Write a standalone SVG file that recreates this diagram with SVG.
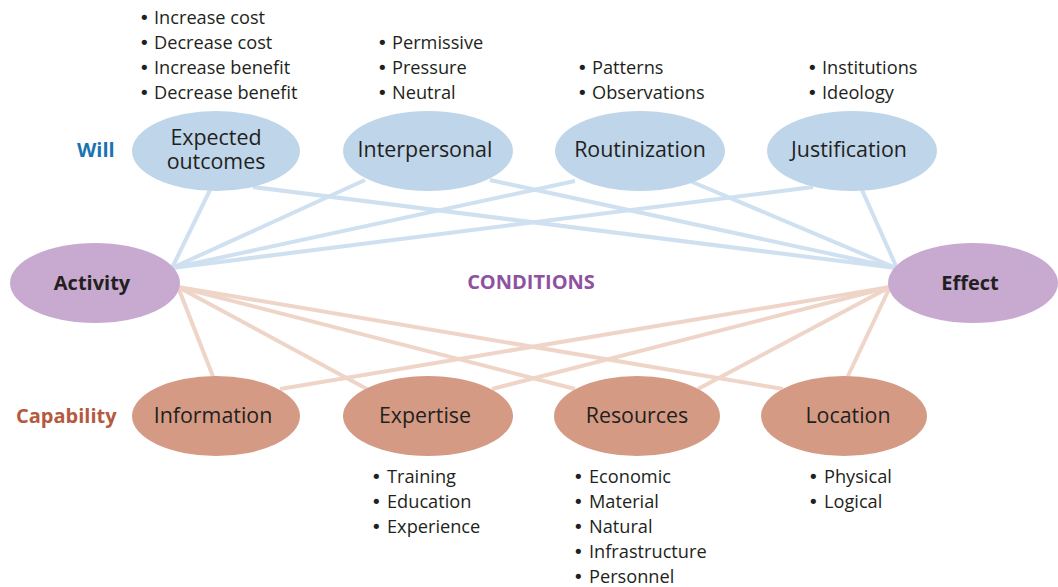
<svg xmlns="http://www.w3.org/2000/svg" width="1058" height="587" viewBox="0 0 1058 587">
<style>
text{font-family:"Open Sans","Liberation Sans",sans-serif;fill:#231f20}
.lbl{font-size:21.4px;text-anchor:middle}
.bold{font-weight:bold;font-size:20px}
.li{font-size:18.2px}
.bu{font-family:"DejaVu Sans",sans-serif;font-size:18px}
.b{stroke:#cfe0f0;stroke-width:4;fill:none}
.o{stroke:#efd5c8;stroke-width:4;fill:none}
.will{fill:#bed5ea}
.cond{fill:#c8aad0}
.cap{fill:#d49a84}
</style>
<rect width="1058" height="587" fill="#fff"/>
<g id="connectors">
<line class="b" x1="210" y1="190" x2="172" y2="268"/>
<line class="b" x1="365" y1="180" x2="172" y2="268"/>
<line class="b" x1="575" y1="181" x2="172" y2="268"/>
<line class="b" x1="813" y1="187" x2="172" y2="268"/>
<line class="b" x1="253" y1="187" x2="896" y2="268"/>
<line class="b" x1="490" y1="180" x2="896" y2="268"/>
<line class="b" x1="690" y1="181" x2="896" y2="268"/>
<line class="b" x1="862" y1="190" x2="896" y2="266"/>
<line class="o" x1="178" y1="287" x2="214" y2="379"/>
<line class="o" x1="178" y1="287" x2="367" y2="389"/>
<line class="o" x1="178" y1="287" x2="575" y2="389"/>
<line class="o" x1="178" y1="287" x2="783" y2="389"/>
<line class="o" x1="890" y1="287" x2="280" y2="389"/>
<line class="o" x1="890" y1="287" x2="492" y2="389"/>
<line class="o" x1="890" y1="287" x2="698" y2="389"/>
<line class="o" x1="890" y1="287" x2="847" y2="378"/>
</g>
<g id="will-label"><text class="bold" x="77" y="157" style="fill:#1a74b0">Will</text></g>
<g id="capability-label"><text class="bold" x="16" y="423" style="fill:#b55a3e">Capability</text></g>
<g id="conditions-label"><text class="bold" x="531" y="289" text-anchor="middle" style="fill:#8e52a1">CONDITIONS</text></g>
<g id="expected-outcomes">
<ellipse class="will" cx="216" cy="151" rx="84" ry="40"/>
<text class="lbl" x="216" y="145">Expected</text>
<text class="lbl" x="216" y="169">outcomes</text>
<text class="li" y="24"><tspan class="bu" x="139">•</tspan><tspan x="154">Increase cost</tspan></text>
<text class="li" y="49"><tspan class="bu" x="139">•</tspan><tspan x="154">Decrease cost</tspan></text>
<text class="li" y="74"><tspan class="bu" x="139">•</tspan><tspan x="154">Increase benefit</tspan></text>
<text class="li" y="99"><tspan class="bu" x="139">•</tspan><tspan x="154">Decrease benefit</tspan></text>
</g>
<g id="interpersonal">
<ellipse class="will" cx="428" cy="151" rx="85" ry="40"/>
<text class="lbl" x="425" y="157">Interpersonal</text>
<text class="li" y="49"><tspan class="bu" x="377">•</tspan><tspan x="392">Permissive</tspan></text>
<text class="li" y="74"><tspan class="bu" x="377">•</tspan><tspan x="392">Pressure</tspan></text>
<text class="li" y="99"><tspan class="bu" x="377">•</tspan><tspan x="392">Neutral</tspan></text>
</g>
<g id="routinization">
<ellipse class="will" cx="640" cy="151" rx="85" ry="40"/>
<text class="lbl" x="640" y="157">Routinization</text>
<text class="li" y="74"><tspan class="bu" x="577">•</tspan><tspan x="592">Patterns</tspan></text>
<text class="li" y="99"><tspan class="bu" x="577">•</tspan><tspan x="592">Observations</tspan></text>
</g>
<g id="justification">
<ellipse class="will" cx="852" cy="151" rx="85" ry="40"/>
<text class="lbl" x="849" y="157">Justification</text>
<text class="li" y="74"><tspan class="bu" x="807">•</tspan><tspan x="822">Institutions</tspan></text>
<text class="li" y="99"><tspan class="bu" x="807">•</tspan><tspan x="822">Ideology</tspan></text>
</g>
<g id="activity">
<ellipse class="cond" cx="95" cy="283" rx="85" ry="40"/>
<text class="bold" x="92" y="290" text-anchor="middle">Activity</text>
</g>
<g id="effect">
<ellipse class="cond" cx="973" cy="283" rx="85" ry="40"/>
<text class="bold" x="970" y="290" text-anchor="middle">Effect</text>
</g>
<g id="information">
<ellipse class="cap" cx="216" cy="416" rx="84" ry="40"/>
<text class="lbl" x="213" y="423">Information</text>
</g>
<g id="expertise">
<ellipse class="cap" cx="428" cy="416" rx="85" ry="40"/>
<text class="lbl" x="425" y="423">Expertise</text>
<text class="li" y="483"><tspan class="bu" x="371">•</tspan><tspan x="387">Training</tspan></text>
<text class="li" y="508"><tspan class="bu" x="371">•</tspan><tspan x="387">Education</tspan></text>
<text class="li" y="533"><tspan class="bu" x="371">•</tspan><tspan x="387">Experience</tspan></text>
</g>
<g id="resources">
<ellipse class="cap" cx="637" cy="416" rx="83" ry="40"/>
<text class="lbl" x="637" y="423">Resources</text>
<text class="li" y="483"><tspan class="bu" x="573">•</tspan><tspan x="589">Economic</tspan></text>
<text class="li" y="508"><tspan class="bu" x="573">•</tspan><tspan x="589">Material</tspan></text>
<text class="li" y="533"><tspan class="bu" x="573">•</tspan><tspan x="589">Natural</tspan></text>
<text class="li" y="558"><tspan class="bu" x="573">•</tspan><tspan x="589">Infrastructure</tspan></text>
<text class="li" y="583"><tspan class="bu" x="573">•</tspan><tspan x="589">Personnel</tspan></text>
</g>
<g id="location">
<ellipse class="cap" cx="844" cy="416" rx="83" ry="40"/>
<text class="lbl" x="848" y="423">Location</text>
<text class="li" y="483"><tspan class="bu" x="808">•</tspan><tspan x="824">Physical</tspan></text>
<text class="li" y="508"><tspan class="bu" x="808">•</tspan><tspan x="824">Logical</tspan></text>
</g>
</svg>
